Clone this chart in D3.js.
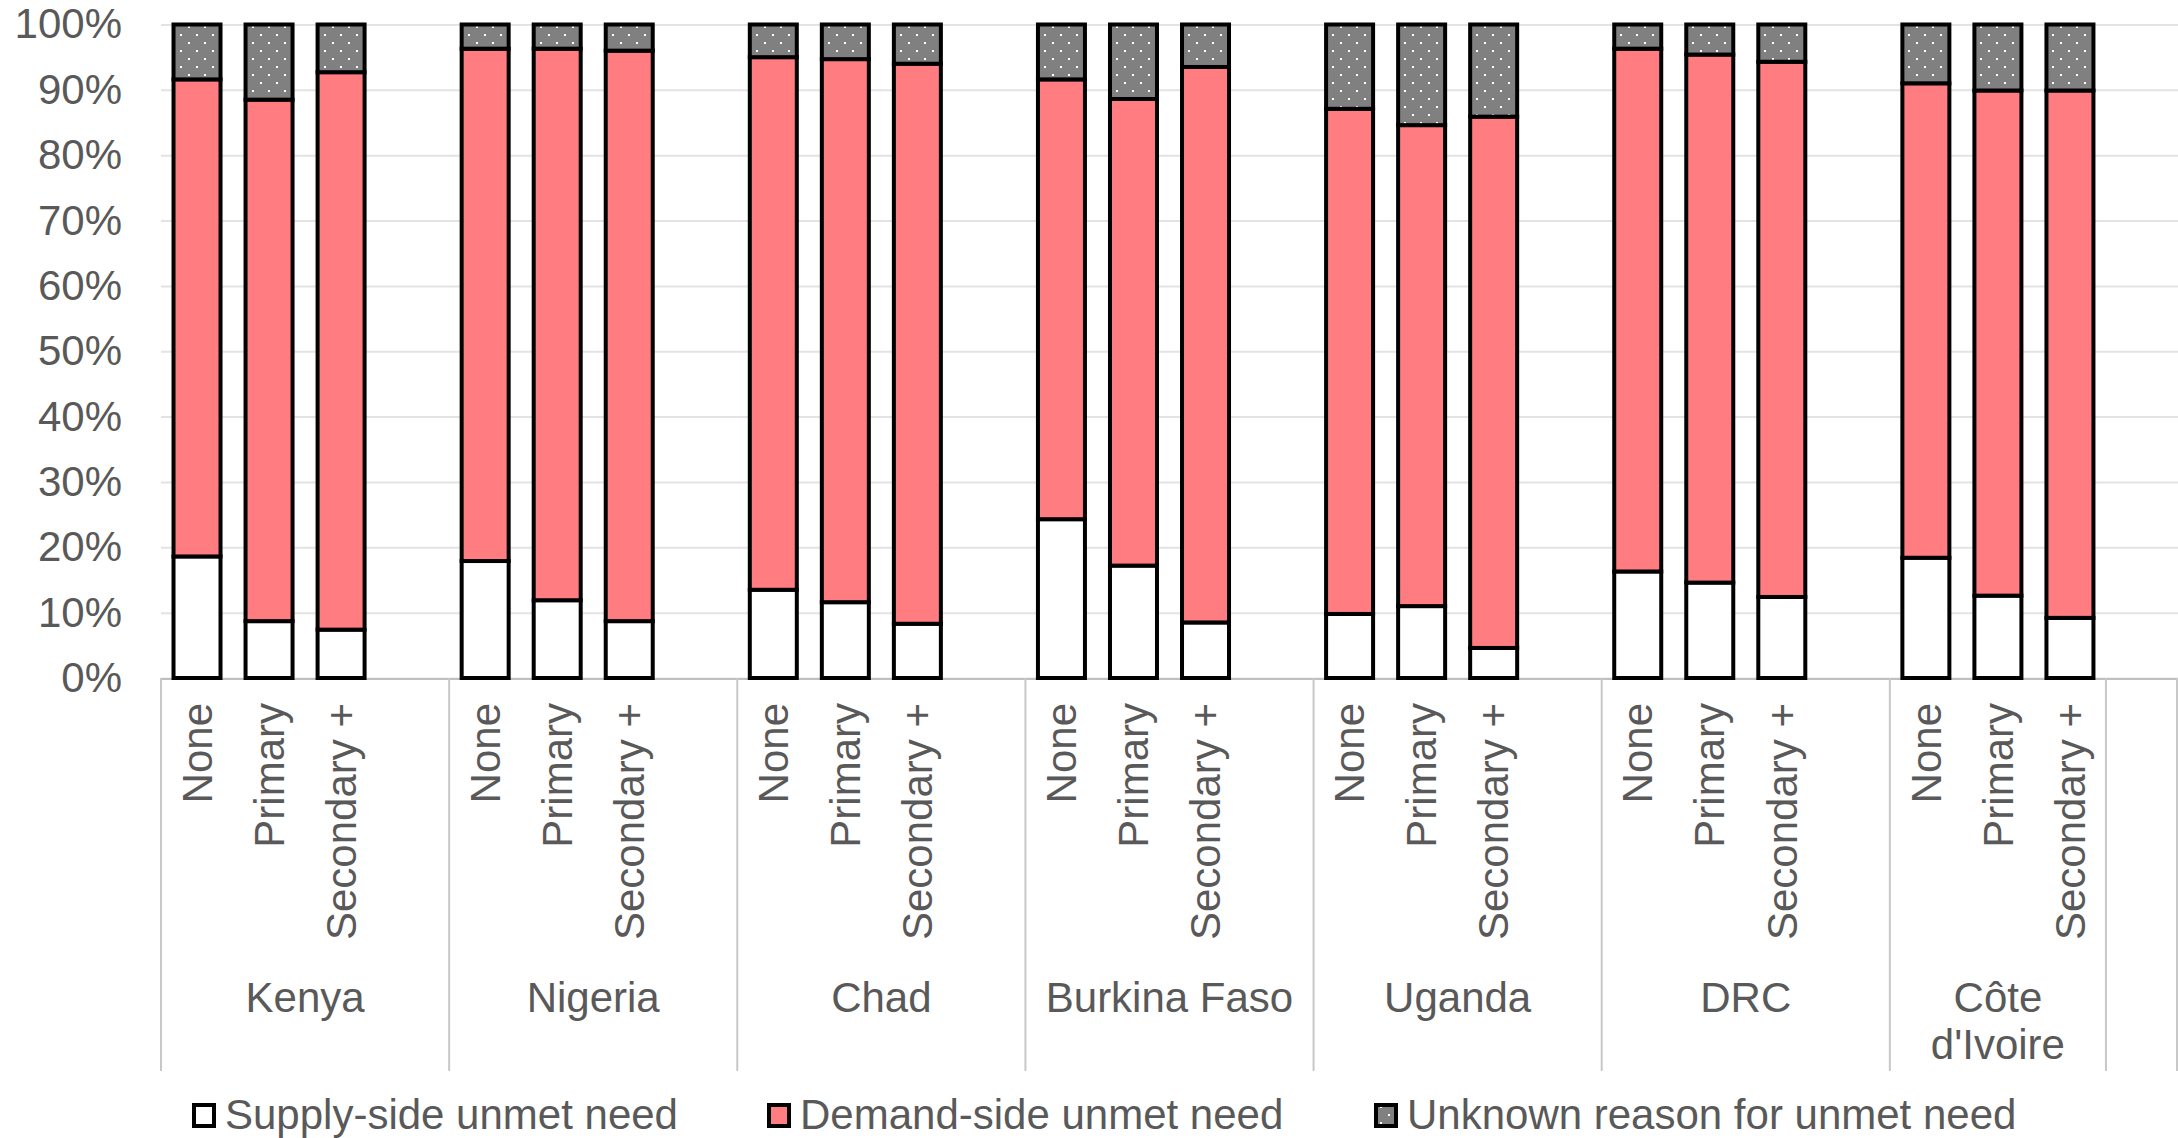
<!DOCTYPE html>
<html>
<head>
<meta charset="utf-8">
<script src="https://cdn.jsdelivr.net/npm/d3@7"></script>
<style>
  html, body { margin: 0; padding: 0; background: #ffffff; }
  svg { display: block; }
  text { font-family: "Liberation Sans", Arial, sans-serif; fill: #595959; }
</style>
</head>
<body>
<svg id="chart" width="2178" height="1138"></svg>
<script>
// ---------- DATA ----------
const countries = ["Kenya", "Nigeria", "Chad", "Burkina Faso", "Uganda", "DRC", "Côte d'Ivoire"];
const levels = ["None", "Primary", "Secondary +"];
const seriesNames = ["Supply-side unmet need", "Demand-side unmet need", "Unknown reason for unmet need"];
// values in %, one triple (None, Primary, Secondary +) per country
const supplySide = [
  [18.6, 8.7, 7.4],
  [17.9, 11.9, 8.7],
  [13.5, 11.6, 8.3],
  [24.3, 17.2, 8.5],
  [9.8, 11.0, 4.6],
  [16.3, 14.6, 12.4],
  [18.4, 12.6, 9.2]
];
const demandSide = [
  [73.0, 79.8, 85.3],
  [78.4, 84.4, 87.3],
  [81.5, 83.1, 85.7],
  [67.3, 71.4, 85.0],
  [77.3, 73.6, 81.3],
  [80.0, 80.8, 81.9],
  [72.6, 77.3, 80.7]
];
const unknownReason = [
  [8.4, 11.5, 7.3],
  [3.7, 3.7, 4.0],
  [5.0, 5.3, 6.0],
  [8.4, 11.4, 6.5],
  [12.9, 15.4, 14.1],
  [3.7, 4.6, 5.7],
  [9.0, 10.1, 10.1]
];
const yTicks = [0, 10, 20, 30, 40, 50, 60, 70, 80, 90, 100];
const yTickLabels = ["0%", "10%", "20%", "30%", "40%", "50%", "60%", "70%", "80%", "90%", "100%"];

// ---------- LAYOUT ----------
const svg = d3.select("#chart");
const plotLeft = 161, plotRight = 2178, plotTop = 24.5, plotBottom = 678;
const fontSize = 42;
const colors = ["#ffffff", "#ff7c80", "url(#dots)"];

// build category slots (multi-level axis: each country + blank spacer, plus trailing empty group)
const groups = [];
const slots = [];
countries.forEach((c, ci) => {
  const g = { name: c, slots: [] };
  levels.forEach((lv, li) => {
    const id = c + "|" + lv;
    g.slots.push(id);
    slots.push({ id, country: c, level: lv, ci, li });
  });
  if (ci < countries.length - 1) {
    const id = c + "|blank";
    g.slots.push(id);
    slots.push({ id, country: c, level: "", ci, li: -1 });
  }
  groups.push(g);
});
groups.push({ name: "", slots: ["end|blank"] });
slots.push({ id: "end|blank", country: "", level: "", ci: -1, li: -1 });

const x = d3.scaleBand().domain(slots.map(s => s.id)).range([plotLeft, plotRight]).padding(0);
const y = d3.scaleLinear().domain([0, 100]).range([plotBottom, plotTop]);
const barW = 47;

// pattern
const defs = svg.append("defs");
const pat = defs.append("pattern").attr("id", "dots")
  .attr("patternUnits", "userSpaceOnUse").attr("width", 16).attr("height", 16);
pat.append("rect").attr("width", 16).attr("height", 16).attr("fill", "#808080");
pat.append("rect").attr("x", 4).attr("y", 2).attr("width", 2).attr("height", 2).attr("fill", "#ffffff");
pat.append("rect").attr("x", 12).attr("y", 10).attr("width", 2).attr("height", 2).attr("fill", "#ffffff");

// gridlines + y labels via axis
const yAxis = d3.axisLeft(y).tickValues(yTicks)
  .tickFormat((d, i) => yTickLabels[i])
  .tickSize(-(plotRight - plotLeft)).tickPadding(39);
const yg = svg.append("g").attr("transform", `translate(${plotLeft},0)`).call(yAxis);
yg.select(".domain").remove();
yg.selectAll(".tick line").attr("stroke", "#e3e3e3").attr("stroke-width", 2);
yg.selectAll(".tick text").attr("font-size", fontSize).attr("fill", "#595959")
  .attr("font-family", '"Liberation Sans", Arial, sans-serif');

// bottom axis line
svg.append("line").attr("x1", plotLeft).attr("x2", plotRight)
  .attr("y1", plotBottom + 1).attr("y2", plotBottom + 1)
  .attr("stroke", "#bfbfbf").attr("stroke-width", 2);

// stacked data
const rows = slots.filter(s => s.li >= 0).map(s => ({
  id: s.id,
  s0: supplySide[s.ci][s.li],
  s1: demandSide[s.ci][s.li],
  s2: unknownReason[s.ci][s.li]
}));
const stack = d3.stack().keys(["s0", "s1", "s2"]);
const stacked = stack(rows);

const barsG = svg.append("g");
stacked.forEach((layer, k) => {
  barsG.append("g").selectAll("rect").data(layer).join("rect")
    .attr("x", d => x(d.data.id) + (x.bandwidth() - barW) / 2)
    .attr("width", barW)
    .attr("y", d => y(d[1]))
    .attr("height", d => y(d[0]) - y(d[1]))
    .attr("fill", colors[k])
    .attr("stroke", "#000000")
    .attr("stroke-width", 4);
});

// group separators
let boundaries = [];
groups.forEach(g => {
  boundaries.push(x(g.slots[0]));
});
boundaries.push(plotRight - 1);
svg.append("g").selectAll("line").data(boundaries).join("line")
  .attr("x1", d => d).attr("x2", d => d)
  .attr("y1", plotBottom).attr("y2", 1071)
  .attr("stroke", "#c8c8c8").attr("stroke-width", 2);

// inner (level) labels, rotated
svg.append("g").selectAll("text").data(slots.filter(s => s.li >= 0)).join("text")
  .attr("transform", d => `translate(${x(d.id) + x.bandwidth() / 2},703) rotate(-90)`)
  .attr("text-anchor", "end")
  .attr("dy", "0.35em")
  .attr("font-size", fontSize)
  .text(d => d.level);

// country labels
const countryLines = { "Côte d'Ivoire": ["Côte", "d'Ivoire"] };
groups.filter(g => g.name).forEach(g => {
  const x0 = x(g.slots[0]);
  const x1 = x(g.slots[g.slots.length - 1]) + x.bandwidth();
  const lines = countryLines[g.name] || [g.name];
  const t = svg.append("text").attr("text-anchor", "middle").attr("font-size", fontSize)
    .attr("x", (x0 + x1) / 2).attr("y", 1012);
  lines.forEach((ln, i) => {
    t.append("tspan").attr("x", (x0 + x1) / 2).attr("dy", i === 0 ? 0 : 47).text(ln);
  });
});

// legend
const legendX = [192, 767, 1374];
const lg = svg.append("g");
seriesNames.forEach((name, i) => {
  lg.append("rect").attr("x", legendX[i] + 2).attr("y", 1105).attr("width", 20).attr("height", 21)
    .attr("fill", colors[i]).attr("stroke", "#000").attr("stroke-width", 4);
  lg.append("text").attr("x", legendX[i] + 33).attr("y", 1129)
    .attr("font-size", fontSize).text(name);
});
</script>
</body>
</html>
